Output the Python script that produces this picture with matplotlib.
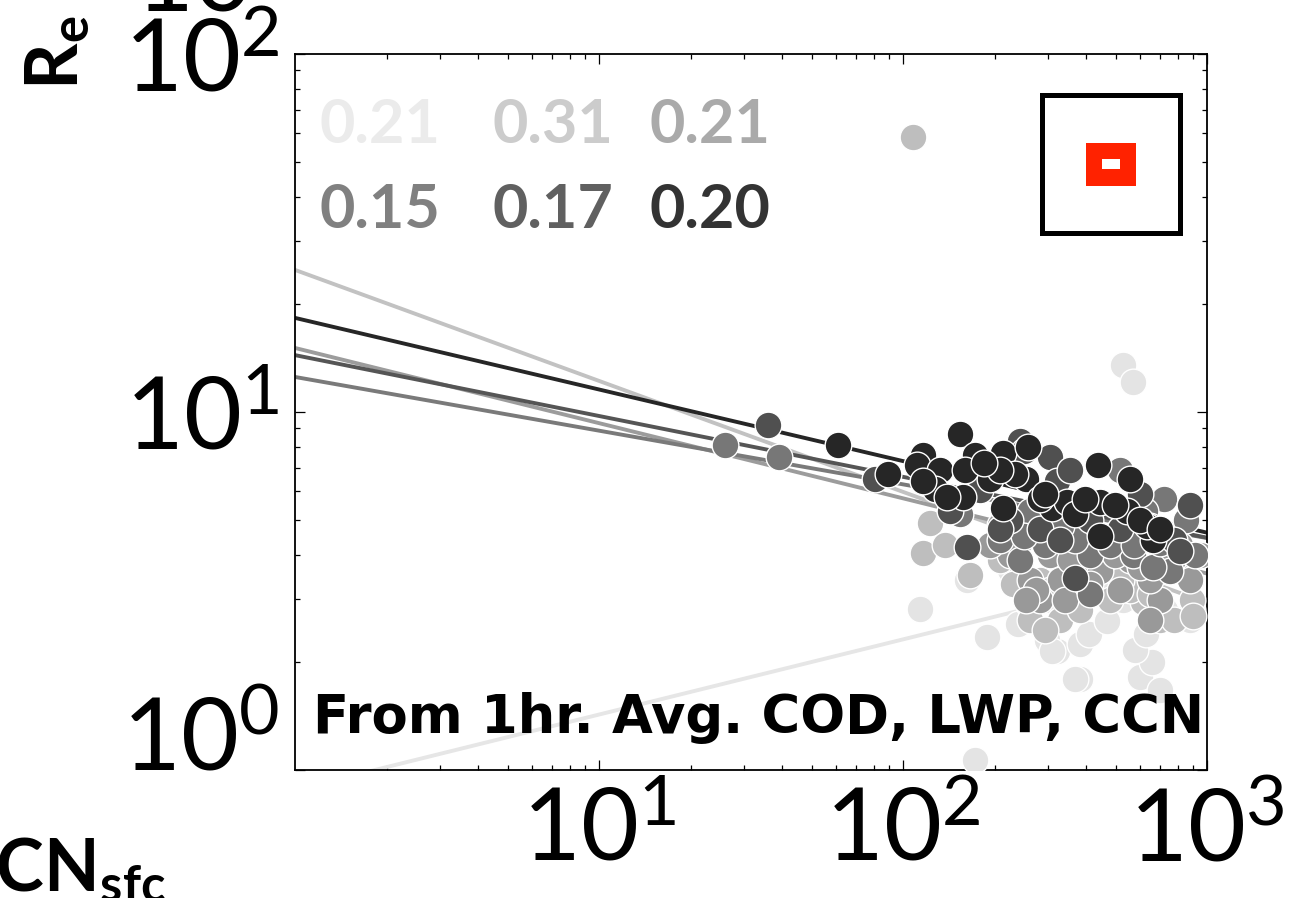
import numpy as np
import matplotlib
matplotlib.use("Agg")
import matplotlib.pyplot as plt
from matplotlib.patches import Rectangle
from matplotlib import ticker

plt.rcParams['font.family'] = ['Lato', 'DejaVu Sans']
plt.rcParams['mathtext.fontset'] = 'custom'
plt.rcParams['mathtext.rm'] = 'Lato'
plt.rcParams['mathtext.bf'] = 'Lato:bold'

# six groups, lightest to darkest
text_colors = ['#ebebeb', '#cccccc', '#aaaaaa', '#808080', '#606060', '#333333']
mark_colors = ['#e4e4e4', '#bebebe', '#999999', '#777777', '#505050', '#262626']
line_colors = ['#e6e6e6', '#c2c2c2', '#9c9c9c', '#7a7a7a', '#555555', '#262626']
slope_labels = ['0.21', '0.31', '0.21', '0.15', '0.17', '0.20']

# power-law fits: Re = 10**icpt * CCN**slope
fit_slope = [0.21, -0.31, -0.21, -0.15, -0.17, -0.20]
fit_icpt = [-0.055, 1.397, 1.179, 1.098, 1.159, 1.263]

ccn_1 = [530, 570, 172, 114, 162, 189, 238, 320, 335, 382, 368, 602, 700, 893,
         660, 290, 305, 298, 310, 382, 444, 727, 879, 530, 225, 580, 410, 470,
         260, 630]
re_1 = [13.5, 12.1, 1.07, 2.82, 3.4, 2.35, 2.55, 2.15, 2.75, 1.8, 1.8, 1.82,
        1.67, 2.8, 2.0, 3.3, 2.98, 2.31, 2.15, 2.25, 3.18, 2.8, 2.62, 2.98,
        3.62, 2.16, 2.4, 2.6, 2.9, 2.4]

ccn_2 = [108, 123, 116, 137, 404, 893, 614, 700, 780, 243, 328, 262, 282, 208,
         479, 558, 382, 166, 305, 293, 428, 350, 520, 650, 230, 900]
re_2 = [58.6, 4.9, 4.05, 4.25, 3.18, 2.98, 2.95, 2.62, 2.62, 3.74, 2.62, 2.62,
        3.4, 3.86, 2.98, 3.18, 2.8, 3.51, 3.18, 2.46, 3.6, 3.3, 3.4, 3.1, 3.3,
        2.7]

ccn_3 = [948, 305, 328, 382, 444, 558, 700, 282, 262, 225, 193, 208, 340, 517,
         879, 649, 354, 497, 274, 254, 412, 649, 815, 240, 600, 780]
re_3 = [4.0, 3.99, 3.4, 3.5, 3.6, 3.86, 2.98, 2.98, 3.4, 3.99, 4.25, 4.83,
        2.98, 3.18, 3.4, 3.4, 3.86, 3.99, 3.18, 2.98, 3.3, 2.62, 4.25, 4.3,
        3.7, 3.9]

ccn_4 = [26, 39, 517, 720, 755, 570, 664, 262, 208, 293, 412, 479, 910, 575,
         368, 243, 154, 850, 412, 250, 625, 330, 700]
re_4 = [8.1, 7.5, 6.9, 5.7, 3.6, 4.0, 3.7, 5.3, 4.4, 4.25, 4.0, 4.25, 4.0,
        4.25, 4.4, 3.86, 5.2, 5.0, 3.1, 4.5, 5.3, 4.8, 4.3]

ccn_5 = [36, 81, 305, 320, 243, 879, 368, 162, 780, 179, 225, 282, 412, 517,
         649, 208, 143, 354, 815, 328, 250, 600]
re_5 = [9.2, 6.5, 7.5, 6.4, 8.3, 5.5, 3.45, 4.2, 4.4, 6.05, 5.0, 4.7, 5.0,
        4.7, 4.8, 4.7, 5.3, 6.9, 4.1, 4.4, 7.8, 5.9]

ccn_6 = [61, 89, 116, 111, 132, 154, 172, 213, 258, 127, 157, 213, 254, 310,
         437, 558, 345, 444, 545, 444, 664, 636, 140, 116, 193, 234, 282, 368,
         497, 602, 700, 397, 208, 160, 185, 293]
re_6 = [8.1, 6.7, 7.6, 7.1, 6.9, 8.7, 7.6, 7.7, 8.0, 6.1, 5.8, 5.4, 6.5, 5.4,
        7.1, 6.5, 5.6, 5.6, 5.3, 4.5, 4.4, 4.8, 5.8, 6.4, 6.5, 6.7, 5.7, 5.2,
        5.5, 5.0, 4.7, 5.7, 6.9, 6.9, 7.2, 5.9]

ccn_groups = [ccn_1, ccn_2, ccn_3, ccn_4, ccn_5, ccn_6]
re_groups = [re_1, re_2, re_3, re_4, re_5, re_6]

fig = plt.figure(figsize=(12.94, 8.98), dpi=100)
ax = fig.add_axes([0.228, 0.1425, 0.7048, 0.7973])

xfit = np.array([1.0, 1000.0])
for i in range(6):
    yfit = 10 ** fit_icpt[i] * xfit ** fit_slope[i]
    ax.plot(xfit, yfit, color=line_colors[i], lw=2.8, zorder=2)
    ax.scatter(ccn_groups[i], re_groups[i], s=370, c=mark_colors[i],
               edgecolors='white', linewidths=1.0, zorder=3)

ax.set_xscale('log')
ax.set_yscale('log')
ax.set_xlim(1, 1000)
ax.set_ylim(1, 100)
ax.set_xticks([10, 100, 1000])
ax.set_yticks([1, 10, 100])
ax.xaxis.set_major_formatter(ticker.LogFormatterMathtext())
ax.yaxis.set_major_formatter(ticker.LogFormatterMathtext())
ax.tick_params(which='both', direction='in', top=True, right=True, width=0.9)
ax.tick_params(which='major', length=7, labelsize=72)
ax.tick_params(which='minor', length=3.5)
ax.tick_params(axis='x', pad=12)
ax.tick_params(axis='y', pad=11)
ax.get_yticklabels()[0].set_va('baseline')
for sp in ax.spines.values():
    sp.set_linewidth(1.3)

# slope numbers
pos_x = [0.027, 0.216, 0.389]
pos_y = [0.876, 0.757]
for i in range(6):
    ax.text(pos_x[i % 3], pos_y[i // 3], slope_labels[i], transform=ax.transAxes,
            fontsize=44, fontweight='bold', color=text_colors[i],
            ha='left', va='baseline')

ax.text(0.0197, 0.0517, 'From 1hr. Avg. COD, LWP, CCN', transform=ax.transAxes,
        fontsize=38, fontweight='bold', family='DejaVu Sans', color='black',
        ha='left', va='baseline')

# location inset
ax.add_patch(Rectangle((0.819, 0.750), 0.151, 0.193, transform=ax.transAxes,
                       fill=False, edgecolor='black', lw=3.6, zorder=5))
ax.add_patch(Rectangle((0.867, 0.816), 0.055, 0.060, transform=ax.transAxes,
                       facecolor='#ff2200', edgecolor='none', zorder=5))
ax.add_patch(Rectangle((0.885, 0.839), 0.020, 0.014, transform=ax.transAxes,
                       facecolor='white', edgecolor='none', zorder=6))

# axis labels, partly cut by the figure edge
fig.text(0.018, 0.900, r'$\mathbf{R_e}$', rotation=90, fontsize=52,
         ha='left', va='bottom')
fig.text(0.128, 0.008, r'$\mathbf{CCN_{sfc}}$', fontsize=52,
         ha='right', va='baseline')
fig.text(0.226, 0.987, r'$\mathdefault{10^{0}}$', fontsize=72,
         ha='right', va='baseline')

fig.savefig('out.png', dpi=100)
